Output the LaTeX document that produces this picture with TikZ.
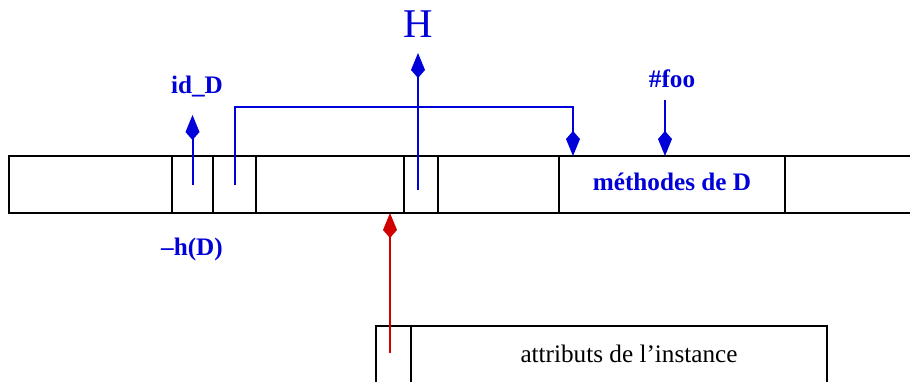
\documentclass[tikz,border=0pt]{standalone}
\usepackage{fontspec}
\setmainfont{Liberation Serif}
\usetikzlibrary{arrows.meta}
\definecolor{Blue}{HTML}{0000D8}
\definecolor{Red}{HTML}{D00000}

\begin{document}
\begin{tikzpicture}[x=0.5pt,y=-0.5pt,
    cell/.style={draw,line width=0.7pt,minimum height=28.5pt,inner sep=0pt},
    lbl/.style={font=\fontsize{12.6}{15}\selectfont\bfseries,text=Blue,anchor=base,inner sep=0pt},
    ptr/.style={draw=Blue,line width=1pt,-{Kite[length=12.5pt,width=7pt,inset=4pt]}}]
  \useasboundingbox (0,0) rectangle (910,381);
  \clip (0,0) rectangle (910,381);
  % object strip
  \node[cell,minimum width=460.5pt] (strip) at (469.5,184.5) {};
  \foreach \nm/\cx/\w in {idcell/192.5/20.5pt,hcell/234.5/21.5pt,Hcell/421/17pt,methcell/672/113pt}
    \node[cell,minimum width=\w] (\nm) at (\cx,184.5) {};
  % instance
  \node[cell,minimum width=225.5pt,minimum height=37pt] (instbox) at (601.5,363) {};
  \node[cell,minimum width=17.5pt,minimum height=37pt] (ptrcell) at (393.5,363) {};

  \coordinate (idtip) at (192.5,115);
  \coordinate (bend) at (573,107);
  \coordinate (methin) at (573,156);
  \coordinate (Hfoot) at (418,190);
  \coordinate (Htip) at (418,53);
  \coordinate (footop) at (665,100);
  \coordinate (fooin) at (665,156);
  \coordinate (instfoot) at (390,353);
  \coordinate (stripin) at (390,213);

  \draw[ptr] (idcell.center) -- (idtip);
  \draw[ptr] (hcell.center) |- (bend) -- (methin);
  \draw[ptr] (Hfoot) -- (Htip);
  \draw[ptr] (footop) -- (fooin);
  \draw[ptr,draw=Red] (instfoot) -- (stripin);

  \node[lbl] (idlab) at (197,93) {id\_D};
  \node[lbl] (hlab) at (192,255) {–h(D)};
  \node[lbl] (foolab) at (672,87) {\#foo};
  \node[lbl] (methlab) at (672,190) {méthodes de D};
  \node[lbl,font=\fontsize{20.4}{24}\selectfont] (Hlab) at (418,37) {H};
  \node[lbl,text=black,font=\fontsize{12.6}{15}\selectfont] (instlab) at (629,362) {attributs de l’instance};
\end{tikzpicture}
\end{document}
